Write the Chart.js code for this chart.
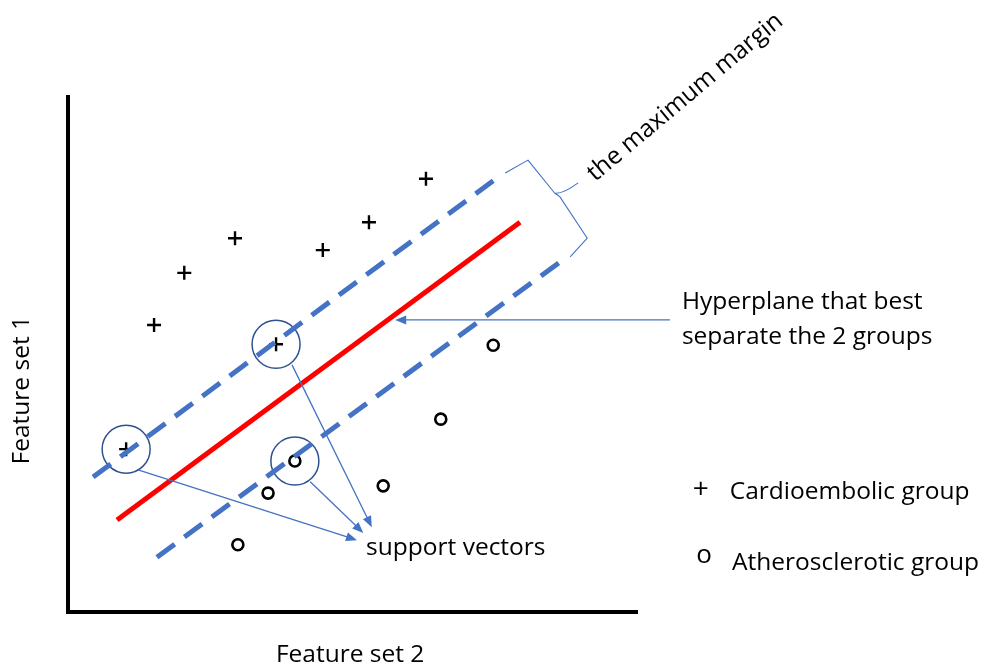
<!DOCTYPE html>
<html lang="en">
<head>
<meta charset="UTF-8">
<title>SVM maximum margin</title>
<script src="https://cdn.jsdelivr.net/npm/chart.js"></script>
<style>
    body { margin: 0; padding: 0; background: #ffffff; }
    .chart-container { position: relative; width: 987px; height: 671px; }
</style>
</head>
<body>
<div class="chart-container">
    <canvas id="svmChart"></canvas>
</div>
<script>
    // Cardioembolic group (+)
    const plusX = [1.51, 2.04, 2.93, 4.47, 5.28, 6.28, 3.65, 1.02];
    const plusY = [5.55, 6.56, 7.23, 7.00, 7.54, 8.38, 5.18, 3.15];
    // Atherosclerotic group (o)
    const circX = [7.46, 6.54, 3.98, 3.51, 5.53, 2.98];
    const circY = [5.16, 3.73, 2.92, 2.30, 2.44, 1.30];
    // support vectors (circled)
    const supportX = [1.02, 3.65, 3.98];
    const supportY = [3.15, 5.18, 2.92];
    // hyperplane and margins
    const hyperX = [0.86, 7.93];
    const hyperY = [1.78, 7.54];
    const upperX = [0.44, 7.46];
    const upperY = [2.61, 8.34];
    const lowerX = [1.56, 8.63];
    const lowerY = [1.06, 6.77];

    // annotation arrows [x0, y0, x1, y1]
    const arrows = [
        [10.56, 5.65, 5.74, 5.65],
        [1.23, 2.75, 5.07, 1.39],
        [3.93, 4.78, 5.33, 1.64],
        [4.25, 2.52, 5.18, 1.53]
    ];
    // brace beside the margin
    const braceX = [7.67, 8.07, 8.54, 8.95, 8.63, 9.11, 8.81];
    const braceY = [8.49, 8.74, 8.10, 8.30, 8.03, 7.23, 6.87];

    const toPts = (xs, ys) => xs.map((v, i) => ({ x: v, y: ys[i] }));

    const BLUE = '#4472C4';
    const FONT = '"Open Sans", sans-serif';

    const drawings = {
        id: 'drawings',
        afterDatasetsDraw(chart) {
            const ctx = chart.ctx;
            const xs = chart.scales.x, ys = chart.scales.y;
            const px = v => xs.getPixelForValue(v);
            const py = v => ys.getPixelForValue(v);
            const area = chart.chartArea;
            ctx.save();

            // axes
            ctx.strokeStyle = '#000';
            ctx.lineWidth = 4;
            ctx.lineCap = 'butt';
            ctx.beginPath();
            ctx.moveTo(area.left, area.top);
            ctx.lineTo(area.left, area.bottom);
            ctx.lineTo(area.right, area.bottom);
            ctx.stroke();

            // arrows
            ctx.strokeStyle = BLUE;
            ctx.fillStyle = BLUE;
            ctx.lineWidth = 1.3;
            arrows.forEach(a => {
                const x0 = px(a[0]), y0 = py(a[1]), x1 = px(a[2]), y1 = py(a[3]);
                const ang = Math.atan2(y1 - y0, x1 - x0);
                ctx.beginPath();
                ctx.moveTo(x0, y0);
                ctx.lineTo(x1 - 8 * Math.cos(ang), y1 - 8 * Math.sin(ang));
                ctx.stroke();
                ctx.beginPath();
                ctx.moveTo(x1, y1);
                ctx.lineTo(x1 - 11 * Math.cos(ang) + 4.5 * Math.sin(ang), y1 - 11 * Math.sin(ang) - 4.5 * Math.cos(ang));
                ctx.lineTo(x1 - 11 * Math.cos(ang) - 4.5 * Math.sin(ang), y1 - 11 * Math.sin(ang) + 4.5 * Math.cos(ang));
                ctx.closePath();
                ctx.fill();
            });

            // brace
            ctx.lineWidth = 1.1;
            ctx.lineJoin = 'round';
            ctx.beginPath();
            ctx.moveTo(px(braceX[0]), py(braceY[0]));
            ctx.lineTo(px(braceX[1]), py(braceY[1]));
            ctx.lineTo(px(braceX[2]), py(braceY[2]));
            ctx.quadraticCurveTo(px(braceX[2]) + 8, py(braceY[2]) + 1, px(braceX[3]), py(braceY[3]));
            ctx.moveTo(px(braceX[2]), py(braceY[2]));
            ctx.quadraticCurveTo(px(braceX[4]) - 2, py(braceY[4]) - 2, px(braceX[4]), py(braceY[4]));
            ctx.lineTo(px(braceX[5]), py(braceY[5]));
            ctx.lineTo(px(braceX[6]), py(braceY[6]));
            ctx.stroke();

            // texts
            ctx.fillStyle = '#000';
            ctx.textBaseline = 'middle';
            ctx.font = '24.5px ' + FONT;
            ctx.textAlign = 'left';
            ctx.fillText('support vectors', px(5.23), py(1.23));
            ctx.fillText('Hyperplane that best', px(10.77), py(6.0));
            ctx.fillText('separate the 2 groups', px(10.77), py(5.32));
            ctx.fillText('Cardioembolic group', px(11.61), py(2.32));
            ctx.fillText('Atherosclerotic group', px(11.65), py(0.95));
            ctx.textAlign = 'center';
            ctx.fillText('Feature set 2', px(4.95), py(-0.84));

            // legend glyphs, a little heavier
            ctx.font = '28px ' + FONT;
            ctx.fillText('+', px(11.1), py(2.36));
            ctx.font = '26px ' + FONT;
            ctx.fillText('o', px(11.16), py(1.1));
            ctx.font = '24.5px ' + FONT;

            ctx.save();
            ctx.translate(px(-0.81), py(4.29));
            ctx.rotate(-Math.PI / 2);
            ctx.fillText('Feature set 1', 0, 0);
            ctx.restore();

            ctx.save();
            ctx.translate(px(9.17), py(8.42));
            ctx.rotate(-40 * Math.PI / 180);
            ctx.textAlign = 'left';
            ctx.fillText('the maximum margin', 0, 0);
            ctx.restore();

            ctx.restore();
        }
    };

    const ctxSvm = document.getElementById('svmChart').getContext('2d');
    const svmChart = new Chart(ctxSvm, {
        type: 'scatter',
        data: {
            datasets: [
                {
                    label: 'Upper margin',
                    data: toPts(upperX, upperY),
                    showLine: true,
                    borderColor: BLUE,
                    borderWidth: 5,
                    borderDash: [22, 12],
                    pointRadius: 0
                },
                {
                    label: 'Lower margin',
                    data: toPts(lowerX, lowerY),
                    showLine: true,
                    borderColor: BLUE,
                    borderWidth: 5,
                    borderDash: [22, 12],
                    pointRadius: 0
                },
                {
                    label: 'Hyperplane',
                    data: toPts(hyperX, hyperY),
                    showLine: true,
                    borderColor: '#FF0000',
                    borderWidth: 5,
                    pointRadius: 0
                },
                {
                    label: 'Support vectors',
                    data: toPts(supportX, supportY),
                    pointStyle: 'circle',
                    pointRadius: 24,
                    borderColor: '#2F528F',
                    borderWidth: 1.5,
                    backgroundColor: 'rgba(255,255,255,0)'
                },
                {
                    label: 'Cardioembolic group',
                    data: toPts(plusX, plusY),
                    pointStyle: 'cross',
                    pointRadius: 7,
                    borderColor: '#000',
                    borderWidth: 2.4
                },
                {
                    label: 'Atherosclerotic group',
                    data: toPts(circX, circY),
                    pointStyle: 'circle',
                    pointRadius: 5.5,
                    borderColor: '#000',
                    borderWidth: 2.6,
                    backgroundColor: 'rgba(255,255,255,0)'
                }
            ]
        },
        options: {
            responsive: true,
            maintainAspectRatio: false,
            animation: false,
            events: [],
            layout: { padding: { left: 68, right: 349, top: 95, bottom: 59 } },
            plugins: { legend: { display: false }, tooltip: { enabled: false } },
            scales: {
                x: { type: 'linear', min: 0, max: 10, display: false },
                y: { type: 'linear', min: 0, max: 10, display: false }
            }
        },
        plugins: [drawings]
    });
</script>
</body>
</html>
